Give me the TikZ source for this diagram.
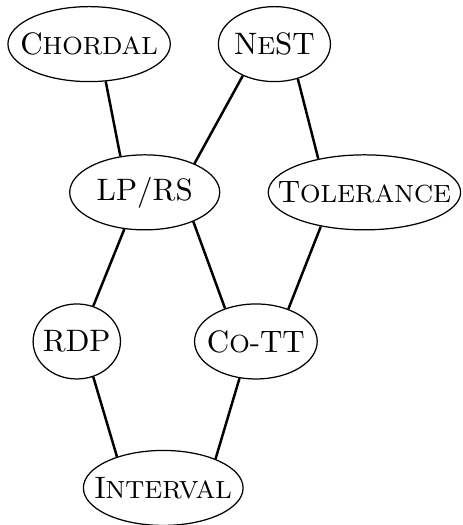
\documentclass[tikz,border=0pt]{standalone}
\usepackage{amsmath, amssymb}
\usepackage{tikz}
\usetikzlibrary{shapes.geometric}

% capitals with smaller capitals for the rest of the word
\newcommand{\capsname}[2]{#1{\footnotesize #2}}

\tikzset{
    cls/.style={draw, ellipse, inner xsep=-0.5cm, inner ysep=0pt,
                minimum height=0.85cm, minimum width=#1},
    incl/.style={thick}
}

\begin{document}
\begin{tikzpicture}
            \useasboundingbox (0, 0) rectangle (5.24, -5.95);

            \node[cls=1.84cm] (chordal) at (1.01, -0.50) {\capsname{C}{HORDAL}};
            \node[cls=1.27cm] (nest) at (3.11, -0.50) {\capsname{N}{E}ST};
            \node[cls=1.70cm] (lprs) at (1.64, -2.18) {LP/RS};
            \node[cls=2.18cm] (tol) at (4.13, -2.18) {\capsname{T}{OLERANCE}};
            \node[cls=0.99cm] (rdp) at (0.87, -3.87) {RDP};
            \node[cls=1.39cm] (cott) at (2.90, -3.87) {\capsname{C}{O}-TT};
            \node[cls=1.81cm] (interval) at (1.85, -5.53) {\capsname{I}{NTERVAL}};
            
            \draw[incl] (chordal.-66) -- (lprs.124);
            \draw[incl] (nest.-135) -- (lprs.30);
            \draw[incl] (nest.-56) -- (tol.144);
            \draw[incl] (lprs.-119) -- (rdp.65);
            \draw[incl] (lprs.-31) -- (cott.133);
            \draw[incl] (tol.-142) -- (cott.45);
            \draw[incl] (rdp.-65) -- (interval.146);
            \draw[incl] (cott.-114) -- (interval.29);
        \end{tikzpicture}
\end{document}
